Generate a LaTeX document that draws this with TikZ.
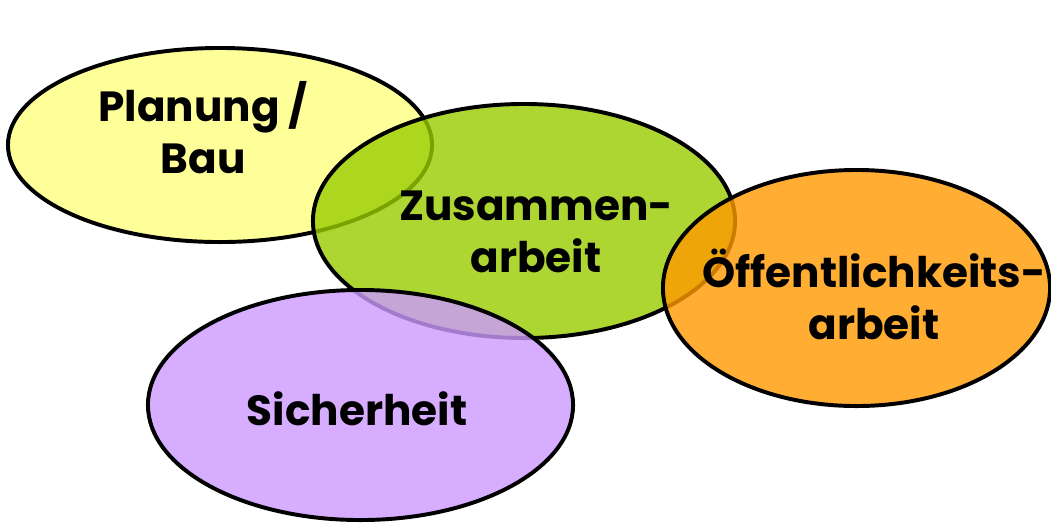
\documentclass[tikz,border=0pt]{standalone}
\usepackage{fontspec}
\setmainfont{Poppins}
\usepackage{tikz}
\usetikzlibrary{shapes.geometric}
\definecolor{fieldYellow}{HTML}{FFFF99}
\definecolor{fieldGreen}{HTML}{99CC00}
\definecolor{fieldOrange}{HTML}{FF9900}
\definecolor{fieldPurple}{HTML}{CC99FF}

\begin{document}
\begin{tikzpicture}[
  x=0.025cm, y=-0.025cm,
  field/.style={ellipse, draw=black, line width=2.8pt, inner sep=0pt, fill opacity=.8},
  caption/.style={font=\fontsize{30}{37}\selectfont\bfseries, align=center, text=black, inner sep=0pt}
]
  \useasboundingbox (0,0) rectangle (1051,522);
  % fields, drawn from back to front
  \node[field, fill=fieldYellow, fill opacity=1, minimum width=10.6cm, minimum height=4.85cm] (bau) at (220,145) {};
  \node[field, fill=fieldGreen, minimum width=10.55cm, minimum height=5.85cm] (team) at (524,221) {};
  \node[field, fill=fieldOrange, minimum width=9.675cm, minimum height=5.9cm] (press) at (856.5,288) {};
  \node[field, fill=fieldPurple, minimum width=10.625cm, minimum height=5.75cm] (safe) at (360.5,405) {};

  \node[caption] (bauText) at (203,128) {Planung /\\Bau};
  \node[caption] (teamText) at (536,232) {Zusammen-\\arbeit};
  \node[caption] (pressText) at (874,294) {Öffentlichkeits-\\arbeit};
  \node[caption] (safeText) at (357,409) {Sicherheit};
\end{tikzpicture}
\end{document}
